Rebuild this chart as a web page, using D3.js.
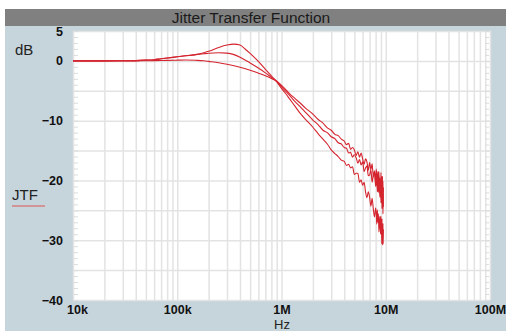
<!DOCTYPE html>
<html lang="en">
<head>
<meta charset="utf-8">
<title>Jitter Transfer Function</title>
<script src="https://cdn.jsdelivr.net/npm/d3@7"></script>
<style>
  body { margin: 0; background: #fff; }
  svg { display: block; font-family: "Liberation Sans", Arial, sans-serif; }
</style>
</head>
<body>
<script>
// frequency points (Hz), shared by the three traces
var freqs = [1e4, 1.5e4, 2e4, 3e4, 4e4, 5e4, 6e4, 7e4, 8e4, 1e5,
  1.2e5, 1.5e5, 1.8e5, 2e5, 2.5e5, 3e5, 3.5e5, 4e5, 4.5e5, 5e5,
  6e5, 7e5, 8e5, 9e5, 1e6, 1.1e6, 1.2e6, 1.35e6, 1.5e6, 1.7e6,
  2e6, 2.25e6, 2.5e6, 2.75e6, 3e6, 3.25e6, 3.5e6, 3.75e6, 4e6, 4.2e6,
  4.4e6, 4.6e6, 4.8e6, 5e6, 5.2e6, 5.4e6, 5.6e6, 5.8e6, 6e6, 6.2e6,
  6.4e6, 6.6e6, 6.8e6, 7e6, 7.2e6, 7.4e6, 7.6e6, 7.8e6, 8e6, 8.1e6,
  8.2e6, 8.3e6, 8.4e6, 8.5e6, 8.6e6, 8.7e6, 8.8e6, 8.9e6, 9e6, 9.05e6,
  9.1e6, 9.15e6, 9.2e6, 9.25e6, 9.3e6, 9.35e6, 9.4e6, 9.45e6, 9.5e6];

// JTF in dB - highest peaking trace
var jtfPeak = [0, 0, 0, 0.02, 0.05, 0.12, 0.2, 0.35, 0.48, 0.68,
  0.85, 1.05, 1.35, 1.6, 2.25, 2.65, 2.8, 2.65, 1.95, 1.25,
  -0.1, -1.4, -2.5, -3.5, -4.6, -5.5, -6.4, -7.6, -8.7, -9.8,
  -11.1, -12.2, -13.1, -13.9, -14.9, -15.5, -16.0, -16.6, -16.8, -17.5,
  -17.3, -17.9, -17.7, -19.0, -18.8, -18.8, -20.3, -19.9, -20.8, -20.3,
  -21.9, -22.9, -21.9, -22.8, -24.3, -23.0, -24.8, -26.1, -24.6, -25.4,
  -27.3, -24.9, -27.0, -25.6, -28.6, -26.9, -26.0, -28.9, -26.0, -29.1,
  -26.6, -30.6, -26.4, -29.6, -27.3, -30.8, -27.2, -30.6, -28.2];

// middle trace
var jtfMid = [0, 0, 0, 0.02, 0.05, 0.12, 0.2, 0.35, 0.48, 0.68,
  0.85, 1.05, 1.2, 1.28, 1.35, 1.3, 1.05, 0.6, 0.1, -0.35,
  -1.2, -2.0, -2.75, -3.4, -4.3, -5.1, -5.8, -6.8, -7.6, -8.6,
  -9.9, -10.7, -11.6, -12.0, -12.7, -13.0, -13.7, -13.9, -14.5, -14.6,
  -15.4, -15.3, -16.1, -15.7, -16.2, -17.1, -16.5, -17.4, -16.9, -18.5,
  -17.9, -17.6, -19.2, -19.1, -18.2, -20.3, -19.1, -18.7, -21.0, -20.5,
  -19.1, -21.9, -20.2, -22.0, -19.4, -21.5, -22.8, -20.3, -23.7, -20.9,
  -23.8, -20.1, -24.7, -21.8, -24.5, -21.4, -25.6, -22.4, -24.4];

// flat trace
var jtfFlat = [0, 0, 0, 0, 0, 0.02, 0.04, 0.06, 0.08, 0.12,
  0.14, 0.1, 0.02, -0.08, -0.3, -0.55, -0.8, -1.05, -1.3, -1.55,
  -2.05, -2.5, -2.95, -3.4, -4.1, -4.8, -5.5, -6.3, -7.0, -7.9,
  -8.9, -9.8, -10.4, -11.2, -11.6, -12.3, -12.5, -13.1, -13.4, -14.0,
  -13.8, -14.8, -14.5, -14.9, -15.8, -15.2, -16.1, -15.4, -16.4, -17.3,
  -16.4, -16.9, -18.3, -17.0, -18.2, -17.2, -19.4, -18.4, -20.3, -18.1,
  -19.2, -21.0, -18.5, -20.2, -18.5, -21.7, -19.7, -21.7, -18.7, -21.7,
  -19.3, -23.2, -19.9, -23.1, -19.3, -22.7, -20.1, -24.0, -21.2];

var xTicks = [1e4, 1e5, 1e6, 1e7, 1e8];
var xTickLabels = ["10k", "100k", "1M", "10M", "100M"];
var yTicks = [5, 0, -10, -20, -30, -40];

var width = 506;
var height = 331;
var plotL = 73, plotR = 490, plotT = 31, plotB = 300;

var svg = d3.select("body").append("svg")
  .attr("width", width)
  .attr("height", height);

// panel + title bar
svg.append("rect").attr("x", 5).attr("y", 26).attr("width", width - 5).attr("height", height - 26)
  .attr("fill", "#c6d4dc");
svg.append("rect").attr("x", 5).attr("y", 9).attr("width", width - 5).attr("height", 17)
  .attr("fill", "#808080");
svg.append("text").attr("x", 251).attr("y", 23)
  .attr("text-anchor", "middle").attr("font-size", 15.5).attr("fill", "#1a1a1a")
  .text("Jitter Transfer Function");

var x = d3.scaleLog().domain([1e4, 1e8]).range([plotL, plotR]);
var y = d3.scaleLinear().domain([-40, 5]).range([plotB, plotT]);

svg.append("rect").attr("x", plotL).attr("y", plotT)
  .attr("width", plotR - plotL).attr("height", plotB - plotT)
  .attr("fill", "#fff");

// grid
var gridFreqs = [];
for (var d = 1e4; d < 1e8; d *= 10) {
  for (var k = 1; k < 10; k++) gridFreqs.push(d * k);
}
gridFreqs.push(1e8);
var gridDb = d3.range(-40, 6, 5);
var minorDb = d3.range(-40, 6, 1);

svg.append("g").attr("transform", "translate(0," + plotB + ")")
  .call(d3.axisBottom(x).tickValues(gridFreqs).tickSize(-(plotB - plotT)).tickFormat(""))
  .call(function(g) {
    g.select(".domain").remove();
    g.selectAll("line").attr("stroke", "#e3e3e3").attr("stroke-width", 1.5);
  });

svg.append("g").attr("transform", "translate(" + plotL + ",0)")
  .call(d3.axisRight(y).tickValues(gridDb).tickSize(plotR - plotL).tickFormat(""))
  .call(function(g) {
    g.select(".domain").remove();
    g.selectAll("line").attr("stroke", "#e3e3e3").attr("stroke-width", 1.5);
  });

// minor ticks on both inner sides
svg.append("g").attr("transform", "translate(" + (plotL + 1) + ",0)")
  .call(d3.axisRight(y).tickValues(minorDb).tickSize(4).tickFormat(""))
  .call(function(g) {
    g.select(".domain").remove();
    g.selectAll("line").attr("stroke", "#dcdcdc");
  });
svg.append("g").attr("transform", "translate(" + (plotR - 1) + ",0)")
  .call(d3.axisLeft(y).tickValues(minorDb).tickSize(4).tickFormat(""))
  .call(function(g) {
    g.select(".domain").remove();
    g.selectAll("line").attr("stroke", "#dcdcdc");
  });

// axes labels
svg.append("g").attr("transform", "translate(0," + plotB + ")")
  .call(d3.axisBottom(x).tickValues(xTicks).tickSize(0).tickPadding(5)
    .tickFormat(function(d, i) { return xTickLabels[i]; }))
  .call(function(g) {
    g.select(".domain").remove();
    g.selectAll("text").attr("font-size", 12.5).attr("font-weight", "bold")
      .attr("fill", "#111").attr("font-family", "Liberation Sans, Arial, sans-serif");
    // first label sits a little right of its tick, as in the original
    g.selectAll("text").filter(function(d, i) { return i === 0; }).attr("dx", 4);
  });

svg.append("g").attr("transform", "translate(" + plotL + ",0)")
  .call(d3.axisLeft(y).tickValues(yTicks).tickSize(0).tickPadding(10))
  .call(function(g) {
    g.select(".domain").remove();
    g.selectAll("text").attr("font-size", 12.5).attr("font-weight", "bold")
      .attr("fill", "#111").attr("font-family", "Liberation Sans, Arial, sans-serif");
  });

svg.append("text").attr("x", 282).attr("y", 329).attr("text-anchor", "middle")
  .attr("font-size", 13).attr("fill", "#222").text("Hz");
svg.append("text").attr("x", 15).attr("y", 55)
  .attr("font-size", 15).attr("fill", "#222").text("dB");
svg.append("text").attr("x", 12).attr("y", 200)
  .attr("font-size", 15).attr("fill", "#222").text("JTF");
svg.append("line").attr("x1", 12).attr("x2", 45).attr("y1", 206).attr("y2", 206)
  .attr("stroke", "#d58080").attr("stroke-width", 1.5);

// traces
var line = d3.line()
  .x(function(d) { return x(d[0]); })
  .y(function(d) { return y(d[1]); })
  .curve(d3.curveMonotoneX);

[jtfFlat, jtfMid, jtfPeak].forEach(function(series) {
  svg.append("path")
    .datum(freqs.map(function(f, i) { return [f, series[i]]; }))
    .attr("d", line)
    .attr("fill", "none")
    .attr("stroke", "#d4242e")
    .attr("stroke-width", 1.1);
});
</script>
</body>
</html>
